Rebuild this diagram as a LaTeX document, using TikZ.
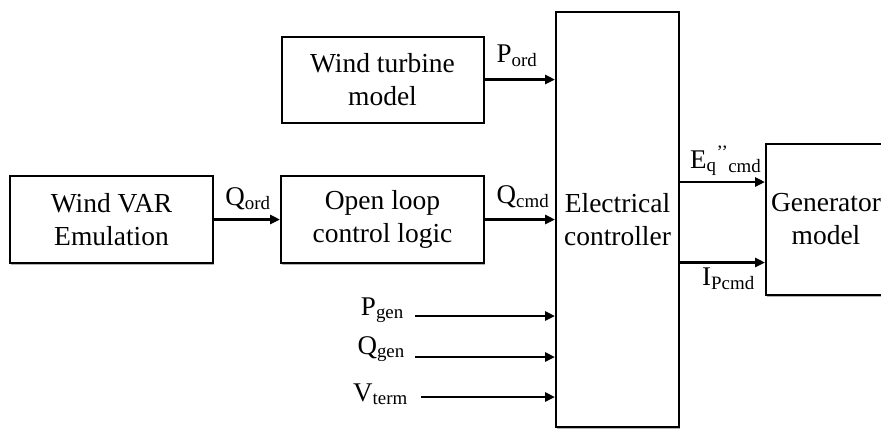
\documentclass[tikz,border=0pt]{standalone}
\usepackage{fontspec}
\setmainfont{Liberation Serif}
\usetikzlibrary{arrows.meta,shadows}
\begin{document}
\begin{tikzpicture}[x=1pt,y=-1pt,
  blk/.style={draw,line width=2pt,fill=white,align=center,
    font=\fontsize{27.5}{33}\selectfont,inner sep=0pt,
    drop shadow={shadow xshift=0.6pt,shadow yshift=-1.8pt,fill=black!30,opacity=1}},
  lbl/.style={font=\fontsize{27}{32}\selectfont,inner sep=0pt},
  sig/.style={line width=2.8pt,-{Triangle[length=10pt,width=9pt]}}]
\useasboundingbox (0,0) rectangle (881,429);
\clip (0,0) rectangle (881,429);
% blocks
\node[blk,minimum width=202pt,minimum height=86pt] (wt) at (382.5,79.5) {Wind turbine\\model};
\node[blk,minimum width=203pt,minimum height=87pt] (wv) at (111.5,219.5) {Wind VAR\\Emulation};
\node[blk,minimum width=203pt,minimum height=87pt] (ol) at (382.5,219.5) {Open loop\\control logic};
\node[blk,minimum width=123pt,minimum height=415pt] (ec) at (617.5,219.5) {Electrical\\controller};
\node[blk,minimum width=120pt,minimum height=151pt] (gm) at (826,219.5) {Generator\\model};
% helper coordinates
\coordinate (ey) at (0,182);
\coordinate (iy) at (0,262.5);
\coordinate (pg) at (415,316);
\coordinate (qg) at (415,357);
\coordinate (vt) at (421,397);
% connectors
\draw[sig] (wt.east) -- (wt.east -| ec.west);
\draw[sig] (wv.east) -- (ol.west);
\draw[sig] (ol.east) -- (ol.east -| ec.west);
\draw[sig] (ec.east |- ey) -- (gm.west |- ey);
\draw[sig] (ec.east |- iy) -- (gm.west |- iy);
\draw[sig] (pg) -- (pg -| ec.west);
\draw[sig] (qg) -- (qg -| ec.west);
\draw[sig] (vt) -- (vt -| ec.west);
% labels
\node[lbl,anchor=base] (lpo) at (517,62) {P\textsubscript{ord}};
\node[lbl,anchor=base] (lqo) at (248,205) {Q\textsubscript{ord}};
\node[lbl,anchor=base] (lqc) at (523,203) {Q\textsubscript{cmd}};
\node[lbl,anchor=base west] (leq) at (690,168) {E\textsubscript{q}\textsuperscript{’’}\textsubscript{cmd}};
\node[lbl,anchor=base west] (lip) at (702,285) {I\textsubscript{Pcmd}};
\node[lbl,anchor=base east] (lpg) at (404,315) {P\textsubscript{gen}};
\node[lbl,anchor=base east] (lqg) at (405,354) {Q\textsubscript{gen}};
\node[lbl,anchor=base east] (lvt) at (408,401) {V\textsubscript{term}};
\end{tikzpicture}
\end{document}
